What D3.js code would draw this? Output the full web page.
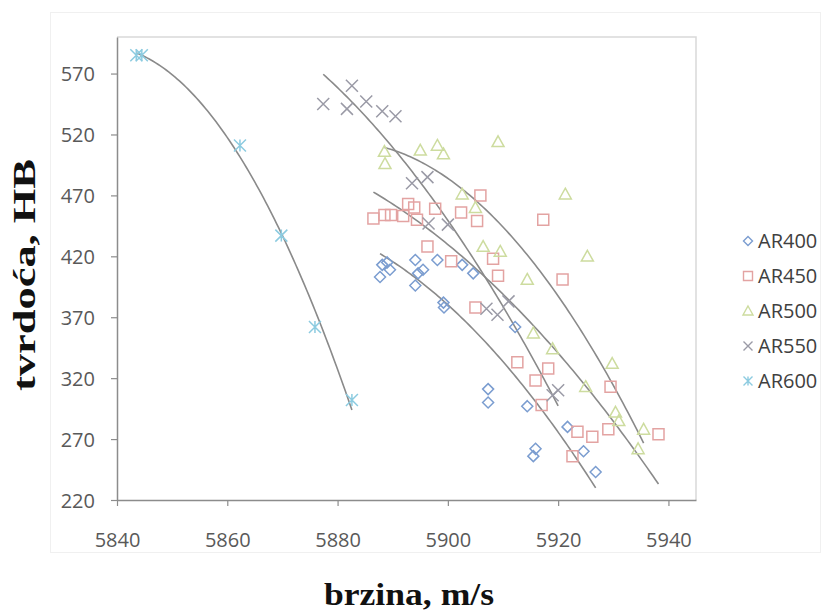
<!DOCTYPE html>
<html>
<head>
<meta charset="utf-8">
<script src="https://cdn.jsdelivr.net/npm/d3@7"></script>
<style>
  html, body { margin: 0; padding: 0; background: #ffffff; }
  svg { display: block; }
</style>
</head>
<body>
<svg id="chart" width="828" height="611"></svg>
<script>
// ---------- data ----------
const xTicks = [5840, 5860, 5880, 5900, 5920, 5940];
const yTicks = [220, 270, 320, 370, 420, 470, 520, 570];
const seriesNames = ["AR400", "AR450", "AR500", "AR550", "AR600"];

const ar400 = [
  [5887.7, 403], [5888.1, 413], [5889.0, 415], [5889.5, 409], [5894.1, 417],
  [5894.6, 406], [5894.1, 396], [5895.5, 409], [5898.1, 417], [5899.2, 382],
  [5899.3, 378], [5902.6, 413], [5904.6, 406], [5907.3, 311], [5907.3, 300],
  [5912.2, 362], [5914.4, 297], [5915.9, 262], [5915.5, 256], [5921.7, 280],
  [5924.6, 260], [5926.8, 243]
];
const ar450 = [
  [5886.5, 451], [5888.5, 454], [5889.7, 454], [5891.9, 453], [5892.8, 463],
  [5893.9, 460], [5894.4, 450], [5897.7, 459], [5896.3, 428], [5900.6, 416],
  [5902.4, 456], [5905.3, 449], [5905.9, 470], [5908.2, 418], [5909.1, 404],
  [5905.0, 378], [5912.6, 333], [5915.9, 318], [5918.2, 328], [5917.0, 298],
  [5917.3, 450], [5920.8, 401], [5923.5, 276], [5926.2, 272], [5929.1, 278],
  [5929.5, 313], [5938.2, 274], [5922.6, 256]
];
const ar500 = [
  [5888.5, 506], [5888.6, 496], [5895.0, 507], [5898.1, 511], [5899.2, 504],
  [5909.1, 514], [5902.6, 471], [5905.0, 460], [5906.4, 428], [5909.5, 424],
  [5914.4, 401], [5921.3, 471], [5925.3, 420], [5915.5, 357], [5919.0, 344],
  [5925.0, 313], [5929.8, 332], [5930.4, 292], [5931.0, 285], [5934.5, 262],
  [5935.5, 278]
];
const ar550 = [
  [5877.4, 545], [5882.6, 560], [5881.7, 541], [5885.2, 547], [5888.1, 539],
  [5890.5, 535], [5893.5, 480], [5896.3, 485], [5896.5, 447], [5900.0, 446],
  [5907.0, 377], [5909.0, 372], [5911.0, 383], [5919.0, 306], [5920.0, 310]
];
const ar600 = [
  [5843.5, 585], [5844.5, 585], [5862.3, 511], [5869.8, 437], [5875.9, 362],
  [5882.6, 302]
];
const seriesData = [ar400, ar450, ar500, ar550, ar600];
const seriesColors = ["#7b9dd0", "#e3a3a2", "#cddc9f", "#9a9aa6", "#8ccbe0"];
const seriesShapes = ["diamond", "square", "triangle", "x", "star"];

// ---------- layout ----------
const svg = d3.select("#chart");
const x = d3.scaleLinear().domain([5840, 5945]).range([117, 696]);
const y = d3.scaleLinear().domain([220, 600]).range([500, 37]);

// outer chart frame (faint)
svg.append("rect").attr("x", 50.5).attr("y", 12.5).attr("width", 770).attr("height", 540)
  .attr("fill", "none").attr("stroke", "#f0f0f0").attr("stroke-width", 1);

// plot area border (top / right light)
svg.append("path")
  .attr("d", `M${x(5840)},${y(600)}H${x(5945)}V${y(220)}`)
  .attr("fill", "none").attr("stroke", "#d9d9d9").attr("stroke-width", 1.5);

// axes
const font = "'Open Sans', 'Noto Sans', sans-serif";
const gx = svg.append("g").attr("transform", `translate(0,${y(220)})`)
  .call(d3.axisBottom(x).tickValues(xTicks).tickSize(6).tickSizeOuter(0).tickFormat(d3.format("d")));
gx.select(".domain").attr("stroke", "#8c8c8c").attr("stroke-width", 1.5);
gx.selectAll(".tick line").attr("stroke", "#8c8c8c").attr("stroke-width", 1.2);
gx.selectAll(".tick text").attr("y", 40).attr("dy", "0.35em")
  .attr("font-family", font).attr("font-size", 20).attr("fill", "#595959");

const gy = svg.append("g").attr("transform", `translate(${x(5840)},0)`)
  .call(d3.axisLeft(y).tickValues(yTicks).tickSize(6).tickSizeOuter(0).tickFormat(d3.format("d")));
gy.select(".domain").attr("stroke", "#8c8c8c").attr("stroke-width", 1.5);
gy.selectAll(".tick line").attr("stroke", "#8c8c8c").attr("stroke-width", 1.2);
gy.selectAll(".tick text").attr("x", -22).attr("dy", "0.35em")
  .attr("font-family", font).attr("font-size", 20).attr("fill", "#595959");

// ---------- marker shapes ----------
function shapePath(type, s) {
  switch (type) {
    case "diamond": return `M0,${-s}L${s},0L0,${s}L${-s},0Z`;
    case "square": return `M${-s},${-s}H${s}V${s}H${-s}Z`;
    case "triangle": return `M0,${-s}L${s},${s * 0.8}H${-s}Z`;
    case "x": return `M${-s},${-s}L${s},${s}M${-s},${s}L${s},${-s}`;
    case "star": return `M${-s},${-s}L${s},${s}M${-s},${s}L${s},${-s}M0,${-s}V${s}`;
  }
}
const shapeSize = { diamond: 5.5, square: 5.5, triangle: 6, x: 6, star: 6 };

// ---------- polynomial (order 2) trendlines computed from the data ----------
function polyfit2(pts) {
  const mx = d3.mean(pts, p => p[0]);
  let S = [0, 0, 0, 0, 0], T = [0, 0, 0];
  pts.forEach(([px, py]) => {
    const u = px - mx;
    for (let k = 0; k < 5; k++) S[k] += Math.pow(u, k);
    for (let k = 0; k < 3; k++) T[k] += py * Math.pow(u, k);
  });
  const A = [[S[0], S[1], S[2], T[0]], [S[1], S[2], S[3], T[1]], [S[2], S[3], S[4], T[2]]];
  for (let i = 0; i < 3; i++) {
    let piv = i;
    for (let r = i + 1; r < 3; r++) if (Math.abs(A[r][i]) > Math.abs(A[piv][i])) piv = r;
    [A[i], A[piv]] = [A[piv], A[i]];
    for (let r = 0; r < 3; r++) {
      if (r === i) continue;
      const f = A[r][i] / A[i][i];
      for (let c = i; c < 4; c++) A[r][c] -= f * A[i][c];
    }
  }
  const c = [A[0][3] / A[0][0], A[1][3] / A[1][1], A[2][3] / A[2][2]];
  return v => { const u = v - mx; return c[0] + c[1] * u + c[2] * u * u; };
}

const line = d3.line().x(d => x(d[0])).y(d => y(d[1])).curve(d3.curveLinear);
const gTrend = svg.append("g");
const gMarks = svg.append("g");

seriesData.forEach((pts, i) => {
  const shape = seriesShapes[i];
  gMarks.selectAll(null).data(pts).enter().append("path")
    .attr("transform", d => `translate(${x(d[0])},${y(d[1])})`)
    .attr("d", shapePath(shape, shapeSize[shape]))
    .attr("fill", "none")
    .attr("stroke", seriesColors[i])
    .attr("stroke-width", 1.5);

  const f = polyfit2(pts);
  const [x0, x1] = d3.extent(pts, p => p[0]);
  const curvePts = d3.range(0, 101).map(k => {
    const v = x0 + (x1 - x0) * k / 100;
    return [v, f(v)];
  });
  gTrend.append("path").attr("d", line(curvePts))
    .attr("fill", "none").attr("stroke", "#8a8a8a").attr("stroke-width", 1.6);
});

// ---------- legend ----------
const legend = svg.append("g");
seriesNames.forEach((name, i) => {
  const ly = 241 + i * 35;
  const shape = seriesShapes[i];
  legend.append("path")
    .attr("transform", `translate(748,${ly})`)
    .attr("d", shapePath(shape, shape === "triangle" ? 5 : 4.5))
    .attr("fill", "none").attr("stroke", seriesColors[i]).attr("stroke-width", 1.4);
  legend.append("text").attr("x", 758).attr("y", ly).attr("dy", "0.35em")
    .attr("font-family", font).attr("font-size", 20).attr("fill", "#404040")
    .text(name);
});

// ---------- axis titles ----------
svg.append("text")
  .attr("x", 409).attr("y", 605)
  .attr("text-anchor", "middle")
  .attr("font-family", "'Liberation Serif', 'Times New Roman', serif")
  .attr("font-weight", "bold").attr("font-size", 32)
  .attr("textLength", 170).attr("lengthAdjust", "spacingAndGlyphs")
  .attr("fill", "#111")
  .text("brzina, m/s");

svg.append("text")
  .attr("transform", "translate(35,275) rotate(-90)")
  .attr("text-anchor", "middle")
  .attr("font-family", "'Liberation Serif', 'Times New Roman', serif")
  .attr("font-weight", "bold").attr("font-size", 32)
  .attr("textLength", 232).attr("lengthAdjust", "spacingAndGlyphs")
  .attr("fill", "#111")
  .text("tvrdoća, HB");
</script>
</body>
</html>
